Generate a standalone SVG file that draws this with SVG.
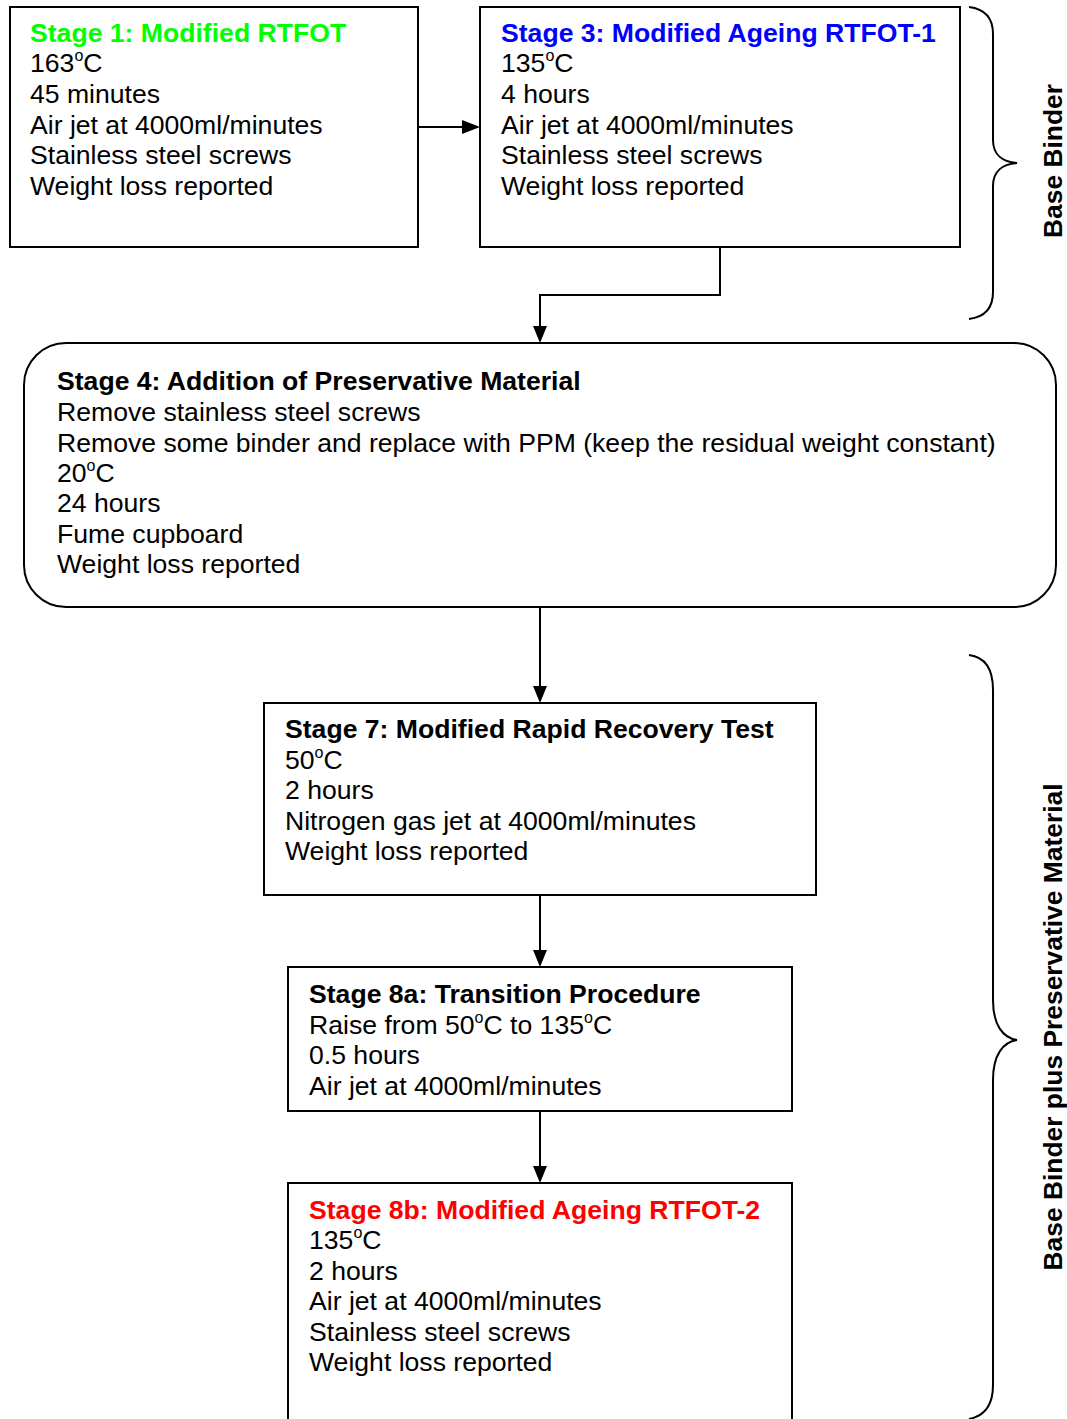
<svg xmlns="http://www.w3.org/2000/svg" width="1067" height="1419" viewBox="0 0 1067 1419">
<style>
  .box{fill:#fff;stroke:#000;stroke-width:2}
  .t{font-family:"Liberation Sans",Arial,sans-serif;font-size:26.6px;fill:#000}
  .b{font-weight:bold}
  .sup{font-size:16px}
  .con{fill:none;stroke:#000;stroke-width:2}
  .brace{fill:none;stroke:#000;stroke-width:2}
  .lbl{font-family:"Liberation Sans",Arial,sans-serif;font-size:26.4px;font-weight:bold;fill:#000}
</style>
<rect width="1067" height="1419" fill="#fff"/>

<g id="connectors">
  <line class="con" x1="418" y1="127" x2="464" y2="127"/>
  <path d="M462,120 L480,127 L462,134 z" fill="#000"/>
  <polyline class="con" points="720,247 720,295 540,295 540,328"/>
  <path d="M533,326 L540,343 L547,326 z" fill="#000"/>
  <line class="con" x1="540" y1="607" x2="540" y2="688"/>
  <path d="M533,686 L540,703 L547,686 z" fill="#000"/>
  <line class="con" x1="540" y1="895" x2="540" y2="952"/>
  <path d="M533,950 L540,967 L547,950 z" fill="#000"/>
  <line class="con" x1="540" y1="1111" x2="540" y2="1168"/>
  <path d="M533,1166 L540,1183 L547,1166 z" fill="#000"/>
</g>

<g id="stage1">
  <rect class="box" x="10" y="7" width="408" height="240"/>
  <text class="t b" x="30" y="42" style="fill:#00ff00">Stage 1: Modified RTFOT</text>
  <text class="t" x="30" y="72">163<tspan class="sup" dy="-11">o</tspan><tspan dy="11">C</tspan></text>
  <text class="t" x="30" y="103">45 minutes</text>
  <text class="t" x="30" y="134">Air jet at 4000ml/minutes</text>
  <text class="t" x="30" y="164">Stainless steel screws</text>
  <text class="t" x="30" y="195">Weight loss reported</text>
</g>

<g id="stage3">
  <rect class="box" x="480" y="7" width="480" height="240"/>
  <text class="t b" x="501" y="42" style="fill:#0000ff">Stage 3: Modified Ageing RTFOT-1</text>
  <text class="t" x="501" y="72">135<tspan class="sup" dy="-11">o</tspan><tspan dy="11">C</tspan></text>
  <text class="t" x="501" y="103">4 hours</text>
  <text class="t" x="501" y="134">Air jet at 4000ml/minutes</text>
  <text class="t" x="501" y="164">Stainless steel screws</text>
  <text class="t" x="501" y="195">Weight loss reported</text>
</g>

<g id="stage4">
  <rect class="box" x="24" y="343" width="1032" height="264" rx="42" ry="42"/>
  <text class="t b" x="57" y="390">Stage 4: Addition of Preservative Material</text>
  <text class="t" x="57" y="421">Remove stainless steel screws</text>
  <text class="t" x="57" y="452">Remove some binder and replace with PPM (keep the residual weight constant)</text>
  <text class="t" x="57" y="482">20<tspan class="sup" dy="-11">o</tspan><tspan dy="11">C</tspan></text>
  <text class="t" x="57" y="512">24 hours</text>
  <text class="t" x="57" y="543">Fume cupboard</text>
  <text class="t" x="57" y="573">Weight loss reported</text>
</g>

<g id="stage7">
  <rect class="box" x="264" y="703" width="552" height="192"/>
  <text class="t b" x="285" y="738">Stage 7: Modified Rapid Recovery Test</text>
  <text class="t" x="285" y="769">50<tspan class="sup" dy="-11">o</tspan><tspan dy="11">C</tspan></text>
  <text class="t" x="285" y="799">2 hours</text>
  <text class="t" x="285" y="830">Nitrogen gas jet at 4000ml/minutes</text>
  <text class="t" x="285" y="860">Weight loss reported</text>
</g>

<g id="stage8a">
  <rect class="box" x="288" y="967" width="504" height="144"/>
  <text class="t b" x="309" y="1003">Stage 8a: Transition Procedure</text>
  <text class="t" x="309" y="1034">Raise from 50<tspan class="sup" dy="-11">o</tspan><tspan dy="11">C to 135</tspan><tspan class="sup" dy="-11">o</tspan><tspan dy="11">C</tspan></text>
  <text class="t" x="309" y="1064">0.5 hours</text>
  <text class="t" x="309" y="1095">Air jet at 4000ml/minutes</text>
</g>

<g id="stage8b">
  <rect class="box" x="288" y="1183" width="504" height="260"/>
  <text class="t b" x="309" y="1219" style="fill:#ff0000">Stage 8b: Modified Ageing RTFOT-2</text>
  <text class="t" x="309" y="1249">135<tspan class="sup" dy="-11">o</tspan><tspan dy="11">C</tspan></text>
  <text class="t" x="309" y="1280">2 hours</text>
  <text class="t" x="309" y="1310">Air jet at 4000ml/minutes</text>
  <text class="t" x="309" y="1341">Stainless steel screws</text>
  <text class="t" x="309" y="1371">Weight loss reported</text>
</g>

<g id="brace-base-binder">
  <path class="brace" d="M969,7 C985,9 993,18 993,34 L993,140 C993,155 1003,162 1017,163 C1003,164 993,171 993,186 L993,292 C993,308 985,317 969,319"/>
  <text class="lbl" transform="translate(1062,161) rotate(-90)" text-anchor="middle">Base Binder</text>
</g>

<g id="brace-base-binder-ppm">
  <path class="brace" d="M969,655 C985,657 993,668 993,690 L993,1000 C993,1025 1003,1038 1017,1040 C1003,1042 993,1055 993,1080 L993,1385 C993,1405 985,1416 969,1419"/>
  <text class="lbl" transform="translate(1062,1027) rotate(-90)" text-anchor="middle">Base Binder plus Preservative Material</text>
</g>
</svg>
